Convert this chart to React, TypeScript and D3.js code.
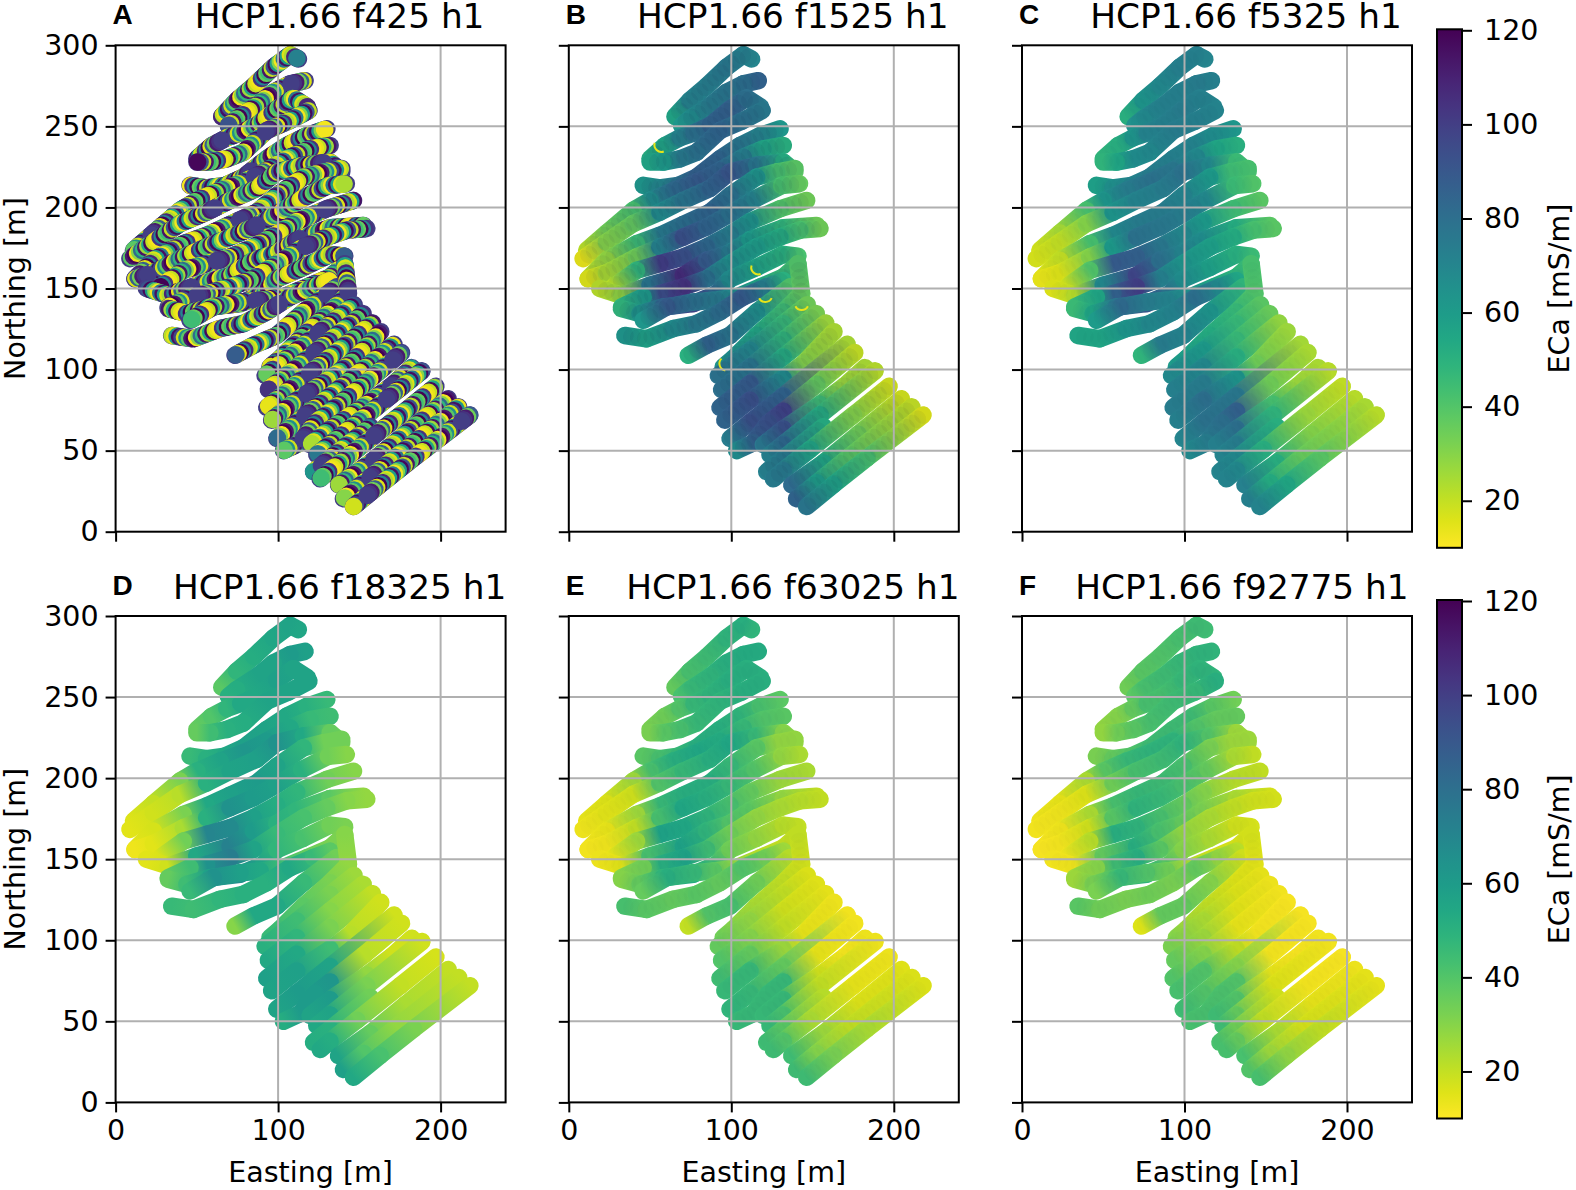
import React, { useRef, useEffect } from 'react'
import * as d3 from 'd3'

// Survey transects, [easting, northing] in metres
const tracks: [number, number][][] = [
  [[65.3, 256.1], [74.5, 266], [85, 275], [97, 286.4], [107.4, 294.2], [112.5, 291.6]],
  [[116.6, 278.2], [107.4, 276.2], [97, 271], [87, 262.8], [74.5, 254.6], [69.4, 250.5]],
  [[50, 230], [59, 238], [68.4, 243], [77, 246], [87, 250.7], [99, 260.5], [109.4, 267.5], [118, 262]],
  [[119, 259.8], [106.4, 253.2], [93, 247.4], [78.6, 234], [68.4, 230], [58, 228], [50, 228]],
  [[45.8, 213.6], [56, 212], [67.4, 213.6], [78.6, 218.7], [93, 230], [105.3, 238.2], [117.7, 244.3], [130, 248.5]],
  [[132, 238.2], [119.7, 236.1], [107.4, 231], [93, 222.8], [78.6, 215.6], [64.3, 210.5], [50, 204.3], [39.6, 198.2], [23.2, 184.2], [11, 173.5]],
  [[8.8, 168.4], [23.2, 178.6], [39.6, 190], [56, 197], [70.4, 204.3], [86.9, 211.7], [99.2, 221.8], [115.6, 226], [132, 228], [139.2, 222]],
  [[139.2, 224], [127.9, 221.8], [115.6, 218.7], [99.2, 207.4], [86.9, 197.1], [70.4, 189.5], [56, 182.8], [41.7, 177.6], [23.2, 167.4], [11.9, 156]],
  [[11.9, 156], [23.2, 159.6], [41.7, 169.4], [56, 175.6], [70.4, 181.7], [84.8, 187.9], [99.2, 196], [114.6, 205.3], [130.9, 213.5], [142, 214.6]],
  [[146.4, 204.3], [130, 199.2], [111.5, 191.3], [99.2, 183.4], [84.8, 175.6], [70.4, 169.4], [56, 165.3], [41.7, 161.2], [27.3, 150.9]],
  [[19, 150], [32.4, 145.8], [49.9, 152], [70.4, 158], [84.8, 167.4], [99.2, 172], [111.5, 180], [132, 187.5], [152.6, 188.9]],
  [[154.6, 187], [142.3, 186], [130, 181.7], [115.6, 175.6], [99.2, 165.3], [84.8, 156], [70.4, 150.9], [56, 146.8], [45.8, 144.8], [32.4, 138.6]],
  [[32.4, 137.6], [43.8, 134.5], [58.1, 138.6], [76.6, 140.7], [91, 146.8], [99.2, 155.9], [115.6, 163], [132, 171], [141, 170]],
  [[141, 165], [132, 157], [117.7, 150.9], [103.3, 144.8], [89, 142.7], [76.6, 141.7], [60.2, 138.6], [45.8, 130.4]],
  [[34.5, 121], [47.8, 119], [64.3, 125.3], [78.6, 128.3], [93, 135.5], [107.4, 144.8], [121.8, 151], [132, 155]],
  [[136.1, 151], [115.6, 135.5], [99.2, 121.1], [84.8, 115], [73.5, 108.8]],
  [[141, 165.3], [143.3, 146.8], [132, 135.5], [115.6, 121.1], [101.2, 106.8], [95, 101.6]],
  [[146.8, 140], [132, 128.3], [111.5, 111.9], [92, 96.3]],
  [[152.4, 134.5], [132, 118.1], [111.5, 101.6], [94, 87.7]],
  [[158.1, 128.7], [132, 107.8], [111.5, 91.4], [93, 76.6]],
  [[163.2, 123.4], [144.3, 103.7], [132, 94.5], [111.5, 81.1], [96, 68.8]],
  [[171.3, 115.6], [132, 83.8], [111.5, 67.4], [99.2, 57.5]],
  [[176, 110.5], [152.6, 90.8], [132, 74.3], [122.7, 67], [113.6, 54.8], [103.3, 50]],
  [[182.3, 101.2], [170, 90.2], [154.6, 78.6], [132, 63.4], [119.7, 53.6]],
  [[188.5, 99.2], [154.6, 72], [132, 54], [123.8, 47.4]],
  [[156.7, 64.9], [132, 45.2], [121.8, 37]],
  [[197.1, 89.7], [175.2, 72], [148.5, 50.7], [132, 37.8], [125.9, 32.6]],
  [[204.7, 82], [178.2, 60.2], [156.7, 42.5], [137.2, 28.8]],
  [[211.1, 77], [173.1, 46.6], [152.6, 30.2], [140.2, 20.3]],
  [[218, 72], [183.4, 45.4], [162.8, 29], [146.4, 15.5]],
]

// ECa [mS/m] at the track points, one list per panel
const ecaF1525 = [
  [55, 70, 72, 75, 72, 70], [85, 80, 76, 74, 66, 62], [52, 55, 70, 78, 84, 86, 80, 75], [75, 78, 84, 78, 74, 60, 55],
  [62, 68, 78, 86, 84, 76, 70, 62], [50, 55, 72, 84, 88, 82, 66, 42, 34, 22], [14, 30, 36, 66, 76, 84, 90, 76, 52, 38],
  [38, 42, 62, 78, 84, 80, 74, 45, 28, 20], [16, 24, 34, 70, 92, 84, 78, 70, 42, 36], [34, 40, 62, 72, 82, 92, 100, 48, 22],
  [22, 28, 76, 106, 88, 74, 60, 48, 34], [34, 42, 52, 58, 64, 78, 104, 94, 60, 48], [48, 62, 84, 98, 84, 66, 55, 50, 42],
  [42, 46, 54, 66, 74, 78, 88, 62], [62, 56, 66, 74, 80, 88, 72, 50], [40, 64, 76, 84, 50],
  [40, 36, 44, 54, 66, 64], [34, 46, 68, 78], [32, 48, 76, 80], [26, 52, 88, 84], [24, 30, 66, 92, 84], [24, 84, 92, 74],
  [20, 36, 98, 92, 86, 66], [24, 26, 44, 92, 76], [22, 52, 82, 72], [52, 74, 72], [18, 30, 54, 74, 74], [18, 34, 54, 82],
  [20, 38, 58, 84], [16, 42, 56, 76],
]
const ecaF5325 = [
  [50, 62, 68, 72, 72, 70], [72, 74, 72, 72, 68, 65], [48, 50, 62, 70, 72, 74, 72, 70], [70, 72, 74, 68, 66, 55, 48],
  [58, 65, 70, 74, 72, 70, 66, 62], [50, 55, 68, 76, 78, 74, 62, 42, 25, 18], [17, 20, 30, 62, 70, 74, 78, 68, 45, 42],
  [42, 44, 60, 70, 74, 74, 68, 42, 20, 15], [14, 16, 30, 60, 78, 76, 74, 68, 45, 40], [38, 44, 60, 68, 76, 86, 88, 40, 18],
  [16, 22, 68, 96, 80, 70, 66, 52, 38], [38, 42, 52, 58, 62, 72, 100, 86, 55, 45], [45, 55, 76, 90, 78, 66, 58, 50, 45],
  [45, 48, 55, 65, 70, 74, 82, 60], [55, 55, 62, 68, 70, 80, 68, 55], [48, 62, 70, 74, 48],
  [42, 40, 46, 52, 58, 60], [38, 46, 60, 68], [35, 46, 68, 72], [28, 50, 74, 74], [26, 34, 62, 80, 72], [25, 76, 78, 70],
  [24, 34, 86, 80, 74, 68], [24, 26, 42, 80, 72], [22, 48, 74, 70], [50, 68, 70], [20, 26, 50, 68, 70], [22, 30, 50, 72],
  [24, 35, 52, 72], [22, 38, 54, 70],
]
const ecaF18325 = [
  [38, 48, 52, 55, 56, 55], [58, 60, 56, 56, 52, 50], [36, 40, 48, 54, 54, 58, 56, 56], [56, 56, 56, 52, 50, 44, 36],
  [46, 50, 54, 58, 56, 54, 50, 46], [44, 46, 54, 60, 62, 56, 50, 32, 20, 16], [15, 18, 22, 50, 56, 58, 64, 54, 36, 34],
  [34, 34, 48, 56, 60, 58, 54, 32, 17, 14], [13, 15, 24, 50, 64, 60, 58, 50, 34, 30], [30, 34, 48, 52, 58, 68, 70, 34, 16],
  [15, 18, 54, 72, 60, 50, 48, 38, 28], [28, 30, 36, 42, 46, 56, 74, 64, 44, 36], [36, 44, 58, 66, 56, 48, 42, 34, 32],
  [32, 32, 36, 44, 54, 58, 64, 46], [46, 44, 48, 50, 50, 54, 46, 38], [34, 46, 54, 54, 30],
  [30, 28, 32, 38, 44, 46], [26, 32, 44, 50], [24, 30, 48, 54], [20, 32, 54, 58], [18, 22, 44, 58, 56], [18, 56, 60, 56],
  [18, 22, 62, 60, 60, 52], [18, 18, 28, 60, 56], [18, 32, 56, 54], [34, 50, 52], [17, 20, 34, 52, 54], [20, 24, 36, 56],
  [20, 28, 40, 58], [20, 32, 42, 54],
]
const ecaF63025 = [
  [36, 42, 44, 48, 50, 48], [52, 52, 50, 48, 46, 42], [32, 34, 40, 46, 48, 50, 50, 50], [50, 50, 48, 46, 42, 38, 32],
  [38, 42, 46, 50, 50, 48, 42, 38], [38, 40, 46, 52, 54, 50, 42, 26, 16, 14], [13, 15, 18, 40, 46, 50, 54, 46, 30, 28],
  [28, 28, 38, 46, 50, 50, 46, 26, 14, 12], [12, 13, 20, 42, 54, 50, 46, 40, 28, 24], [24, 26, 36, 42, 48, 54, 56, 26, 14],
  [13, 15, 42, 56, 48, 40, 38, 28, 20], [20, 22, 24, 28, 34, 44, 56, 50, 34, 30], [30, 36, 48, 52, 44, 34, 28, 22, 20],
  [20, 20, 22, 28, 38, 46, 50, 36], [42, 38, 36, 38, 36, 40, 34, 26], [22, 34, 42, 40, 20],
  [20, 18, 20, 24, 30, 34], [16, 20, 28, 36], [15, 18, 30, 40], [14, 20, 36, 44], [13, 14, 26, 46, 46], [12, 36, 46, 48],
  [12, 14, 46, 46, 46, 46], [13, 12, 18, 46, 46], [13, 20, 42, 46], [22, 38, 44], [13, 14, 24, 40, 44], [15, 16, 26, 44],
  [16, 20, 30, 44], [16, 24, 32, 44],
]
const ecaF92775 = [
  [34, 38, 40, 42, 44, 44], [48, 48, 46, 44, 42, 38], [28, 30, 36, 42, 42, 46, 48, 48], [50, 46, 44, 42, 38, 34, 28],
  [32, 36, 40, 44, 44, 44, 38, 34], [36, 36, 40, 48, 48, 46, 38, 24, 14, 13], [12, 13, 16, 34, 42, 44, 48, 40, 26, 26],
  [26, 26, 32, 42, 44, 46, 42, 24, 13, 11], [11, 12, 18, 38, 48, 46, 42, 36, 24, 20], [20, 22, 30, 36, 42, 48, 50, 22, 13],
  [12, 13, 36, 50, 42, 36, 32, 24, 17], [17, 18, 20, 24, 28, 38, 50, 44, 30, 26], [26, 32, 42, 48, 38, 30, 24, 18, 17],
  [17, 17, 18, 24, 34, 40, 46, 32], [38, 34, 32, 34, 32, 36, 28, 22], [18, 30, 36, 36, 16],
  [17, 15, 16, 20, 26, 30], [14, 16, 24, 32], [13, 15, 26, 36], [12, 14, 30, 40], [11, 12, 20, 40, 42], [11, 30, 40, 44],
  [11, 12, 40, 41, 42, 42], [12, 11, 14, 40, 44], [12, 16, 36, 44], [18, 34, 42], [11, 12, 20, 36, 42], [13, 14, 24, 42],
  [14, 17, 26, 40], [14, 20, 28, 42],
]

// f425 is too noisy to follow along a track, so these are just the values seen in it
const ecaF425Mix = [
  108, 22, 14, 62, 116, 96, 18, 66, 38, 112, 120, 12, 30, 82, 48, 114, 26, 55, 118, 20,
  14, 12, 104, 70, 120, 36, 44, 114, 20, 92, 118, 60, 30, 12, 76, 116, 58, 16, 24, 108,
  72, 120, 16, 88, 34, 112, 104, 100,
]

// single low readings in f1525 that show as thin yellow crescents: easting, northing, angle
const outlierE = [57, 116.6, 121, 143.3, 97]
const outlierN = [238.6, 163, 146, 141, 103.7]
const outlierA = [3.9, 3.9, 3.14, 3.14, 4.4]

const panelTitles = ['HCP1.66 f425 h1', 'HCP1.66 f1525 h1', 'HCP1.66 f5325 h1', 'HCP1.66 f18325 h1', 'HCP1.66 f63025 h1', 'HCP1.66 f92775 h1']
const panelLetters = ['A', 'B', 'C', 'D', 'E', 'F']
const panelValues = [null, ecaF1525, ecaF5325, ecaF18325, ecaF63025, ecaF92775]
const scallopAlpha = [0, 0.05, 0.015, 0, 0.01, 0.01]
const xTicks = [0, 100, 200]
const yTicks = [0, 50, 100, 150, 200, 250, 300]
const barTicks = [20, 40, 60, 80, 100, 120]

const FONT = '"DejaVu Sans", sans-serif'
const colLeft = [115.6, 568.8, 1022]
const rowTop = [45.3, 616]
const axW = 390
const axH = 486.4
const dotWidth = 17.5

const App: React.FC = () => {
  const svgRef = useRef<SVGSVGElement>(null)

  useEffect(() => {
    if (!svgRef.current) return
    const svg = d3.select(svgRef.current)
    svg.selectAll('*').remove()
    const defs = svg.append('defs')

    const color = d3.scaleSequential((t: number) => d3.interpolateViridis(1 - t)).domain([10, 120])
    const xScale = d3.scaleLinear().domain([0, 240]).range([0, axW])
    const yScale = d3.scaleLinear().domain([0, 300]).range([axH, 0])
    const line = d3.line<[number, number]>().x(d => xScale(d[0])).y(d => yScale(d[1]))

    panelTitles.forEach((title, p) => {
      const col = p % 3
      const row = Math.floor(p / 3)
      const left = colLeft[col]
      const top = rowTop[row]
      const g = svg.append('g').attr('transform', `translate(${left}, ${top})`)
      const values = panelValues[p]

      tracks.forEach((track, t) => {
        if (!values) {
          // scatter of f425: rings of round dashes, later ones lie over earlier ones
          const n = ecaF425Mix.length
          const step = 2.5
          g.append('path')
            .attr('d', line(track))
            .attr('fill', 'none')
            .attr('stroke', color(100))
            .attr('stroke-width', dotWidth)
            .attr('stroke-linecap', 'round')
            .attr('stroke-linejoin', 'round')
          ecaF425Mix.forEach((v, j) => {
            g.append('path')
              .attr('d', line(track))
              .attr('fill', 'none')
              .attr('stroke', color(v))
              .attr('stroke-width', dotWidth)
              .attr('stroke-linecap', 'round')
              .attr('stroke-dasharray', `0.01 ${n * step}`)
              .attr('stroke-dashoffset', -j * step - t * 17)
          })
          return
        }
        // smooth panels: one gradient stroke per track piece
        track.slice(1).forEach((pt, i) => {
          const a = track[i]
          const id = `g${p}-${t}-${i}`
          const grad = defs
            .append('linearGradient')
            .attr('id', id)
            .attr('gradientUnits', 'userSpaceOnUse')
            .attr('x1', xScale(a[0]))
            .attr('y1', yScale(a[1]))
            .attr('x2', xScale(pt[0]))
            .attr('y2', yScale(pt[1]))
          grad.append('stop').attr('offset', '0%').attr('stop-color', color(values[t][i]))
          grad.append('stop').attr('offset', '100%').attr('stop-color', color(values[t][i + 1]))
          g.append('path')
            .attr('d', `M${xScale(a[0])},${yScale(a[1])}L${xScale(pt[0])},${yScale(pt[1]) + 0.01}`)
            .attr('fill', 'none')
            .attr('stroke', `url(#${id})`)
            .attr('stroke-width', dotWidth)
            .attr('stroke-linecap', 'round')
        })
        // faint overlapping rings give the scalloped edge of the scatter
        if (scallopAlpha[p] > 0) {
          ;[0, 1, 2].forEach(k => {
            g.append('path')
              .attr('d', line(track))
              .attr('fill', 'none')
              .attr('stroke', '#1a1040')
              .attr('stroke-opacity', scallopAlpha[p])
              .attr('stroke-width', dotWidth)
              .attr('stroke-linecap', 'round')
              .attr('stroke-dasharray', '0.01 21')
              .attr('stroke-dashoffset', -k * 7)
          })
        }
      })

      if (p === 1) {
        const arc = d3.arc()
        outlierE.forEach((e, i) => {
          g.append('path')
            .attr('transform', `translate(${xScale(e)}, ${yScale(outlierN[i])})`)
            .attr('d', arc({ innerRadius: 6, outerRadius: 8, startAngle: outlierA[i] - 1.1, endAngle: outlierA[i] + 1.1 }))
            .attr('fill', color(14))
        })
      }

      // Grid sits on top of the scatter
      xTicks.slice(1).forEach(v => {
        g.append('line').attr('x1', xScale(v)).attr('x2', xScale(v)).attr('y1', 0).attr('y2', axH)
          .attr('stroke', '#b0b0b0').attr('stroke-width', 2)
      })
      yTicks.slice(1, -1).forEach(v => {
        g.append('line').attr('x1', 0).attr('x2', axW).attr('y1', yScale(v)).attr('y2', yScale(v))
          .attr('stroke', '#b0b0b0').attr('stroke-width', 2)
      })

      // Axes
      const xAxis = g.append('g').attr('transform', `translate(0, ${axH})`)
        .call(d3.axisBottom(xScale).tickValues(xTicks).tickSize(10).tickPadding(7)
          .tickFormat(row === 1 ? (d => String(d)) : () => ''))
      const yAxis = g.append('g')
        .call(d3.axisLeft(yScale).tickValues(yTicks).tickSize(10).tickPadding(7)
          .tickFormat(col === 0 ? (d => String(d)) : () => ''))
      ;[xAxis, yAxis].forEach(a => {
        a.select('.domain').remove()
        a.selectAll('.tick line').attr('stroke', '#000').attr('stroke-width', 2)
        a.selectAll('text').style('font-family', FONT).style('font-size', '28.5px').attr('fill', '#000')
      })
      g.append('rect').attr('width', axW).attr('height', axH).attr('fill', 'none')
        .attr('stroke', '#000').attr('stroke-width', 2)

      // Labels
      if (row === 1) {
        g.append('text').attr('x', axW / 2).attr('y', axH + 80).attr('text-anchor', 'middle')
          .style('font-family', FONT).style('font-size', '28.5px').text('Easting [m]')
      }
      if (col === 0) {
        g.append('text').attr('transform', 'rotate(-90)').attr('x', -axH / 2).attr('y', -91)
          .attr('text-anchor', 'middle')
          .style('font-family', FONT).style('font-size', '28.5px').text('Northing [m]')
      }
      g.append('text').attr('x', axW / 2 + (p === 5 ? 25 : 29)).attr('y', -17).attr('text-anchor', 'middle')
        .style('font-family', FONT).style('font-size', '34.3px').text(title)
      g.append('text').attr('x', -3).attr('y', -21)
        .style('font-family', '"Liberation Sans", Arial, sans-serif').style('font-size', '28px').style('font-weight', '700')
        .text(panelLetters[p])
    })

    // Colorbars, one per row
    rowTop.forEach((top, r) => {
      const barTop = top - 16
      const barBottom = top + 502.5
      const barScale = d3.scaleLinear().domain([10, 120]).range([barBottom, barTop + 1])
      const id = `bar${r}`
      const grad = defs.append('linearGradient').attr('id', id).attr('x1', 0).attr('x2', 0).attr('y1', 1).attr('y2', 0)
      d3.range(0, 21).forEach(i => {
        grad.append('stop').attr('offset', `${i * 5}%`).attr('stop-color', color(10 + (110 * i) / 20))
      })
      const g = svg.append('g').attr('transform', 'translate(1437, 0)')
      g.append('rect').attr('y', barTop).attr('width', 25).attr('height', barBottom - barTop)
        .attr('fill', `url(#${id})`).attr('stroke', '#000').attr('stroke-width', 2)
      const axis = g.append('g').attr('transform', 'translate(25, 0)')
        .call(d3.axisRight(barScale).tickValues(barTicks).tickSize(10).tickPadding(12))
      axis.select('.domain').remove()
      axis.selectAll('.tick line').attr('stroke', '#000').attr('stroke-width', 2)
      axis.selectAll('text').style('font-family', FONT).style('font-size', '28.5px').attr('fill', '#000')
      g.append('text').attr('transform', 'rotate(-90)').attr('x', -(barTop + barBottom) / 2).attr('y', 132)
        .attr('text-anchor', 'middle').style('font-family', FONT).style('font-size', '28.5px').text('ECa [mS/m]')
    })
  }, [])

  return (
    <svg
      ref={svgRef}
      width={1576}
      height={1190}
      style={{ position: 'absolute', left: 0, top: 0, background: '#fff' }}
    />
  )
}

export default App
